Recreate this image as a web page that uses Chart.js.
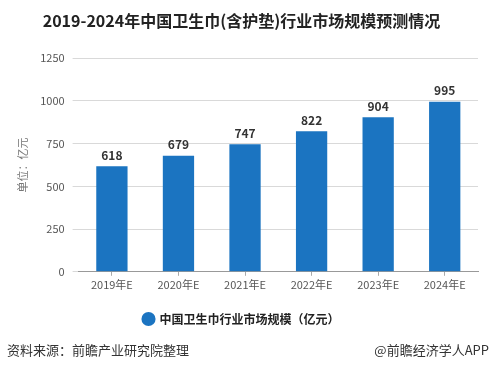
<!DOCTYPE html>
<html lang="zh">
<head>
<meta charset="UTF-8">
<script src="https://cdn.jsdelivr.net/npm/chart.js@4.4.0/dist/chart.umd.min.js"></script>
<style>
    body { margin: 0; background: #fff; font-family: "Noto Sans CJK SC", sans-serif; }
    #wrap { position: relative; width: 492px; height: 371px; }
    .foot { position: absolute; top: 340px; font-size: 13px; color: #333; }
</style>
</head>
<body>
<div id="wrap">
    <canvas id="myChart" width="492" height="371"></canvas>
    <div class="foot" style="left:7px;">资料来源：前瞻产业研究院整理</div>
    <div class="foot" style="right:3px;">@前瞻经济学人APP</div>
</div>
<script>
    const years = ['2019年E', '2020年E', '2021年E', '2022年E', '2023年E', '2024年E'];
    const marketSize = [618, 679, 747, 822, 904, 995];
    const yTicks = [0, 250, 500, 750, 1000, 1250];
    const seriesName = '中国卫生巾行业市场规模（亿元）';

    const font = "'Noto Sans CJK SC', sans-serif";

    const valueLabels = {
        id: 'valueLabels',
        afterDatasetsDraw(chart) {
            const ctx = chart.ctx;
            const meta = chart.getDatasetMeta(0);
            ctx.save();
            ctx.font = 'bold 12px ' + font;
            ctx.fillStyle = '#333';
            ctx.textAlign = 'center';
            ctx.textBaseline = 'bottom';
            meta.data.forEach((bar, i) => {
                ctx.fillText(marketSize[i], bar.x, bar.y - 5);
            });
            ctx.restore();
        }
    };

    new Chart(document.getElementById('myChart'), {
        type: 'bar',
        data: {
            labels: years,
            datasets: [{
                label: seriesName,
                data: marketSize,
                backgroundColor: '#1b74c1',
                barPercentage: 0.94,
                categoryPercentage: 0.5
            }]
        },
        options: {
            responsive: false,
            animation: false,
            layout: { padding: { left: 5, right: 14, top: 0, bottom: 36 } },
            plugins: {
                title: {
                    display: true,
                    text: '2019-2024年中国卫生巾(含护垫)行业市场规模预测情况',
                    font: { family: font, size: 16, weight: 'bold' },
                    color: '#222',
                    padding: { top: 11, bottom: 28 }
                },
                legend: {
                    position: 'bottom',
                    labels: {
                        usePointStyle: true,
                        pointStyle: 'circle',
                        boxWidth: 10,
                        boxHeight: 10,
                        font: { family: font, size: 12, weight: 'bold' },
                        color: '#222',
                        padding: 20
                    }
                },
                tooltip: { enabled: false }
            },
            scales: {
                x: {
                    grid: { display: true, drawOnChartArea: false, offset: false, tickLength: 4, color: '#aaa' },
                    border: { color: '#999' },
                    ticks: { font: { family: font, size: 11 }, color: '#555', padding: 2 }
                },
                y: {
                    min: 0,
                    max: 1250,
                    afterBuildTicks(axis) { axis.ticks = yTicks.map(v => ({ value: v })); },
                    grid: { color: '#d9d9d9', drawTicks: true, tickLength: 6 },
                    border: { display: false },
                    ticks: {
                        font: { family: font, size: 11 },
                        color: '#555',
                        padding: 8,
                        callback: v => String(v)
                    },
                    title: {
                        display: true,
                        text: '单位：亿元',
                        font: { family: font, size: 11 },
                        color: '#777',
                        padding: { top: 11, bottom: 3 }
                    }
                }
            }
        },
        plugins: [valueLabels]
    });
</script>
</body>
</html>
